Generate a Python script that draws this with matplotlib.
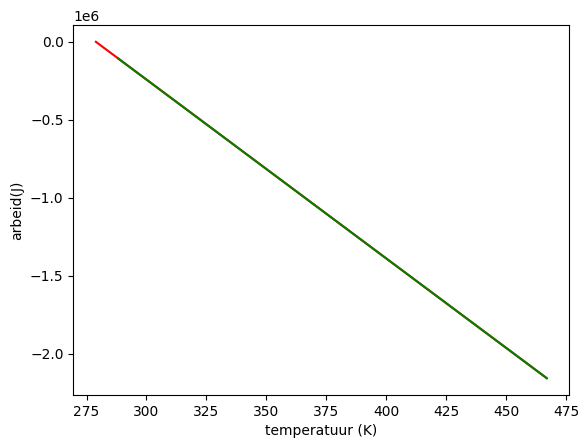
import matplotlib
matplotlib.use("Agg")
import matplotlib.pyplot as plt

# temperature (K) and work (J)
temp_red = [278.9, 466.9]
work_red = [0.0, -2.158e6]
temp_green = [288.2, 466.9]
work_green = [-0.107e6, -2.158e6]

fig, ax = plt.subplots(figsize=(5.88, 4.48), dpi=100)
fig.subplots_adjust(left=0.1247, right=0.9682, top=0.9442, bottom=0.1183)

ax.plot(temp_red, work_red, color="red")
ax.plot(temp_green, work_green, color="green")
ax.set_xlabel("temperatuur (K)")
ax.set_ylabel("arbeid(J)")

plt.savefig("out.png")
